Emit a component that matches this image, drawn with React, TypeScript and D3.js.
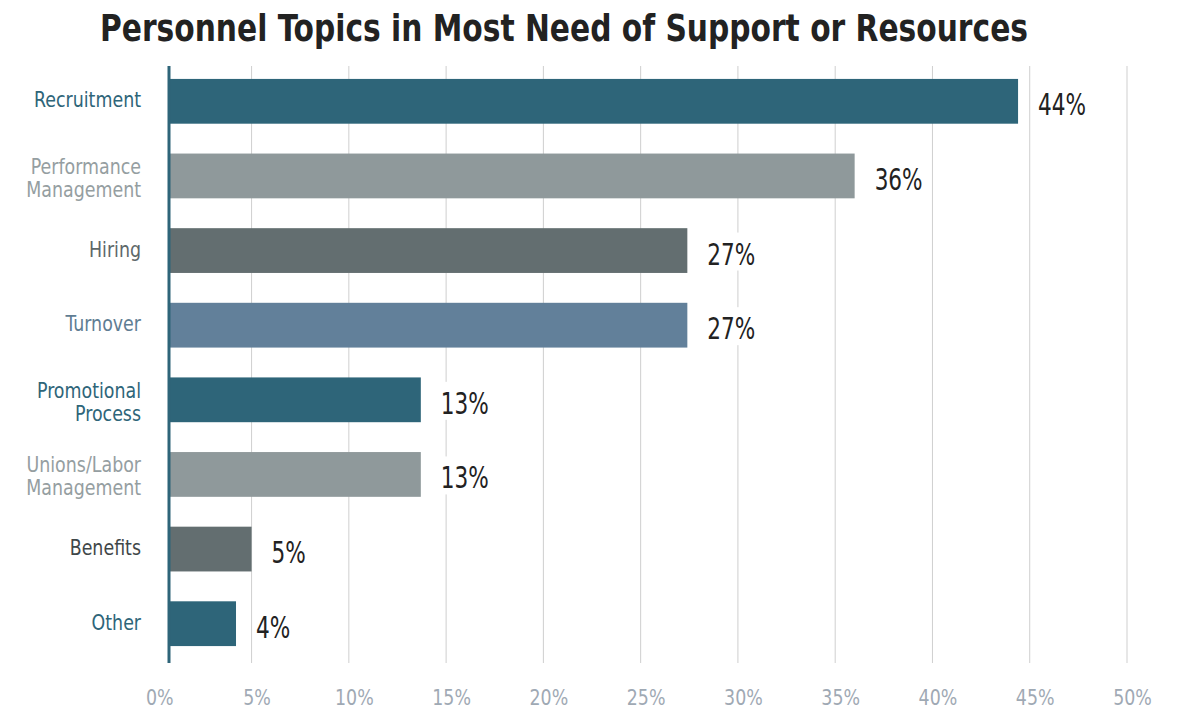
import React from 'react'
import { scaleLinear, scaleBand } from 'd3'

const categories = [
  'Recruitment',
  'Performance Management',
  'Hiring',
  'Turnover',
  'Promotional Process',
  'Unions/Labor Management',
  'Benefits',
  'Other',
]
const values = [44.4, 36, 27.4, 27.4, 13.7, 13.7, 5, 4.2]
const valueLabels = ['44%', '36%', '27%', '27%', '13%', '13%', '5%', '4%']
const ticks = [0, 5, 10, 15, 20, 25, 30, 35, 40, 45, 50]

const teal = '#2e6579'
const barColors = [teal, '#8f999b', '#636e70', '#62809a', teal, '#8f999b', '#636e70', teal]
const labelColors = [teal, '#959ea1', '#5d6769', '#5f7d93', teal, '#959ea1', '#3f4749', teal]

const font = "'Liberation Sans Narrow', 'DejaVu Sans Condensed', 'Arial Narrow', sans-serif"

export default function App() {
  const width = 1193
  const height = 727
  const axisX = 169

  const x = scaleLinear().domain([0, 50]).range([154.3, 1127])
  const y = scaleBand<number>()
    .domain(categories.map((_, i) => i))
    .range([64, 661])
    .paddingInner(0.4)
    .paddingOuter(0.2)

  return (
    <svg width={width} height={height} style={{ position: 'absolute', left: 0, top: 0, background: '#fff' }} fontFamily={font}>
      <text x={564} y={41} textAnchor="middle" fontSize={38} fontWeight="bold" fill="#222"
        textLength={928} lengthAdjust="spacingAndGlyphs">
        Personnel Topics in Most Need of Support or Resources
      </text>

      {/* gridlines */}
      {ticks.filter(t => t > 0).map(t => (
        <line key={t} x1={x(t)} x2={x(t)} y1={66} y2={663} stroke="#cfcfcf" strokeWidth={1} />
      ))}

      {/* bars */}
      {values.map((v, i) => (
        <rect key={i} x={axisX} y={y(i)} width={x(v) - axisX} height={y.bandwidth()} fill={barColors[i]} />
      ))}

      {/* value labels on white boxes */}
      {values.map((v, i) => {
        const cy = y(i)! + y.bandwidth() / 2
        const lx = x(v) + 20
        return (
          <g key={i}>
            <rect x={lx - 3} y={cy - 18} width={54} height={38} fill="#fff" />
            <text transform={`translate(${lx},${cy + 14}) scale(0.8,1)`} fontSize={30} fill="#222">{valueLabels[i]}</text>
          </g>
        )
      })}

      {/* axis line */}
      <line x1={axisX} x2={axisX} y1={66} y2={663} stroke={teal} strokeWidth={3} />

      {/* category labels */}
      {categories.map((c, i) => {
        const cy = y(i)! + y.bandwidth() / 2
        const words = c.split(' ')
        if (words.length === 1) {
          return (
            <text key={i} transform={`translate(141,${cy + 6}) scale(0.88,1)`} textAnchor="end" fontSize={22} fill={labelColors[i]}>{c}</text>
          )
        }
        return (
          <text key={i} transform={`translate(141,${cy - 2}) scale(0.88,1)`} textAnchor="end" fontSize={22} fill={labelColors[i]}>
            <tspan x={0} y={0}>{words[0]}</tspan>
            <tspan x={0} y={23}>{words[1]}</tspan>
          </text>
        )
      })}

      {/* tick labels */}
      {ticks.map(t => (
        <text key={t} transform={`translate(${x(t) + 5.5},705) scale(0.88,1)`} textAnchor="middle" fontSize={22} fill="#9fa9b4">{t}%</text>
      ))}
    </svg>
  )
}
